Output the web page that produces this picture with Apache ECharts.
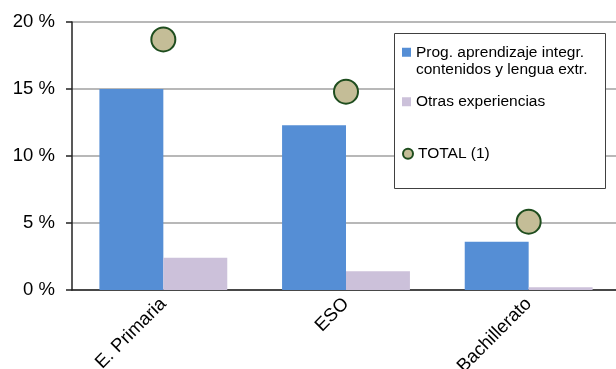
<!DOCTYPE html>
<html>
<head>
<meta charset="utf-8">
<script src="https://cdn.jsdelivr.net/npm/echarts@6/dist/echarts.min.js"></script>
<style>
  html, body { margin: 0; padding: 0; background: #fff; }
  #chart { width: 616px; height: 369px; }
</style>
</head>
<body>
<div id="chart"></div>
<script>
// datos
const categorias = ['E. Primaria', 'ESO', 'Bachillerato']
const progAICLE = [15.0, 12.3, 3.6]
const otrasExp = [2.4, 1.4, 0.2]
const total = [18.7, 14.8, 5.1]
const yTicks = [0, 5, 10, 15, 20]

const nombreProg = 'Prog. aprendizaje integr.\ncontenidos y lengua extr.'
const nombreOtras = 'Otras experiencias'
const nombreTotal = 'TOTAL (1)'

const chart = echarts.init(document.getElementById('chart'))
const fuente = 'Liberation Sans, Arial, sans-serif'

const legendBase = {
  orient: 'vertical',
  left: 402,
  itemWidth: 9,
  itemHeight: 9,
  itemGap: 0,
  padding: 0,
  selectedMode: false,
  textStyle: { fontFamily: fuente, fontSize: 15.5, color: '#000', lineHeight: 17.5 }
}

const option = {
  animation: false,
  backgroundColor: '#fff',
  grid: { left: 72, right: -4, top: 22, bottom: 79, outerBoundsMode: 'none', containLabel: false },
  graphic: [{
    type: 'rect',
    shape: { x: 394.5, y: 33.5, width: 211, height: 155 },
    style: { fill: '#fff', stroke: '#404040', lineWidth: 1 },
    z: 90
  }],
  legend: [
    // linea vacia arriba para que el icono quede a la altura de la primera linea
    Object.assign({}, legendBase, {
      top: 26,
      z: 100,
      formatter: name => ' \n' + name,
      data: [{ name: nombreProg, icon: 'rect' }]
    }),
    Object.assign({}, legendBase, {
      top: 93,
      z: 100,
      data: [{ name: nombreOtras, icon: 'rect' }]
    }),
    Object.assign({}, legendBase, {
      top: 145,
      z: 100,
      itemWidth: 10,
      itemHeight: 10,
      data: [{ name: nombreTotal, icon: 'circle', itemStyle: { color: '#c4bd97', borderColor: '#1e4d1e', borderWidth: 2 } }]
    })
  ],
  xAxis: {
    type: 'category',
    data: categorias,
    axisLine: { lineStyle: { color: '#222', width: 1.5 } },
    axisTick: { show: false },
    axisLabel: {
      rotate: 45,
      margin: 11,
      fontFamily: fuente,
      fontSize: 18.5,
      color: '#000'
    }
  },
  yAxis: {
    type: 'value',
    min: yTicks[0],
    max: yTicks[yTicks.length - 1],
    interval: 5,
    axisLine: { show: true, lineStyle: { color: '#222', width: 1.5 } },
    axisTick: { show: true, length: 6, lineStyle: { color: '#222', width: 1.5 } },
    splitLine: { lineStyle: { color: '#a0a0a0', width: 1.5 } },
    axisLabel: {
      margin: 17,
      fontFamily: fuente,
      fontSize: 18.5,
      color: '#000',
      formatter: v => v + ' %'
    }
  },
  series: [
    {
      name: nombreProg,
      type: 'bar',
      data: progAICLE,
      barGap: '0%',
      barCategoryGap: '30%',
      itemStyle: { color: '#558ed5' }
    },
    {
      name: nombreOtras,
      type: 'bar',
      data: otrasExp,
      itemStyle: { color: '#ccc1da' }
    },
    {
      name: nombreTotal,
      type: 'scatter',
      data: total,
      symbol: 'circle',
      symbolSize: 24,
      z: 10,
      itemStyle: { color: '#c4bd97', borderColor: '#1e4d1e', borderWidth: 2, opacity: 1 }
    }
  ]
}

chart.setOption(option)
</script>
</body>
</html>
